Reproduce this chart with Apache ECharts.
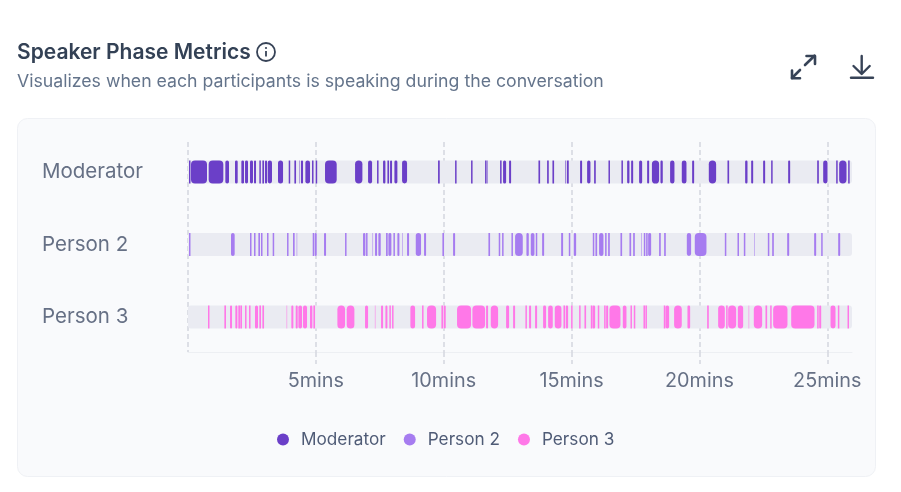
<!DOCTYPE html>
<html><head><meta charset="utf-8">
<style>html,body{margin:0;padding:0;background:#fff}#c{width:901px;height:492px}</style>
<script src="https://cdn.jsdelivr.net/npm/echarts@6/dist/echarts.min.js"></script>
</head><body><div id="c"></div>
<script>
const speakers = ['Moderator','Person 2','Person 3'];
const tickMinutes = [5,10,15,20,25];
const durationSec = 1558;
// speaking turns, [start, end] in seconds
const moderator = [[2.3,4.2],[7,44.6],[48.5,82.9],[87.6,96.2],[110.3,116.6],[125.2,131.4],[133.8,140.8],[145.5,152.5],[154.9,159.6],[167.4,169.8],[174.5,178.4],[180.7,185.4],[187,197.1],[211.2,223],[236.3,239.4],[249.6,253.5],[261.3,262.3],[265,269.9],[275.4,286.3],[291,293.4],[299.6,302.8],[321.5,348.9],[392,409.2],[422.5,431.9],[443.6,446],[457.7,463.2],[467.9,471.8],[474.1,478.8],[484.3,491.3],[502.3,514],[586.7,590.7],[626.7,629],[664.2,667.3],[697.1,700.2],[702,703.2],[732.3,734.6],[739.3,746.4],[753.4,758.1],[822.3,826.2],[842.6,846.5],[855.1,859],[885.6,887],[889,893.4],[920,924.7],[936.5,944.3],[952.9,956.8],[986.6,989.7],[1017,1019.4],[1030.4,1035.8],[1039.8,1044.5],[1058.5,1065.6],[1077.3,1082],[1088.5,1105.4],[1108.6,1114],[1131.2,1141.4],[1158.6,1169.6],[1182.9,1187.6],[1222,1239.2],[1265.8,1269.7],[1307.3,1312.8],[1321.4,1326.1],[1349.5,1354.2],[1368.3,1370.7],[1408.2,1412.9],[1476.3,1480.2],[1490.4,1500.5],[1520.9,1524],[1527.9,1545.1],[1549,1552.2]];
const person2 = [[2.3,5.5],[100.9,109.5],[145.5,148.6],[154.9,157.2],[165.1,169],[171.3,174.5],[185.4,188.5],[198.7,201.8],[232.4,234.7],[246.4,250.3],[255,256.2],[292.6,295.7],[297.3,302],[319.2,323.9],[368.5,370.8],[410.7,416.2],[417.8,420.9],[433,434.2],[438.9,443.6],[446.7,452.2],[464.7,468.6],[470.2,477.2],[482,485.1],[491.3,496],[503,504.2],[514,518.7],[534.4,546.8],[553.9,558.6],[596.9,600.8],[622,626.7],[704.9,708.8],[729.1,732.3],[737,739.3],[758.9,762],[767.5,785.5],[794.1,799.6],[804.3,812.9],[816,819.1],[830.9,835.6],[875.5,880.1],[893.5,896.6],[905.2,910.7],[949.8,952.1],[956,960],[964.6,974.8],[978.7,981.1],[985.8,989.7],[1014.7,1018.6],[1035.8,1039.8],[1044.5,1048.4],[1064,1065.2],[1069.5,1072.6],[1075,1077.3],[1079.7,1086.7],[1105.4,1109.3],[1117.2,1121.1],[1170.4,1180.5],[1189.1,1216.5],[1259.6,1262.7],[1289.3,1292.4],[1304.2,1307.3],[1328.6,1329.8],[1360.5,1363.6],[1370.7,1374.6],[1405.9,1410.6],[1469.2,1473.9],[1485.7,1488],[1525.6,1530.3]];
const person3 = [[46.9,49.3],[85.3,89.2],[98.6,103.3],[111.1,115.8],[118.1,122],[122.8,126.7],[133.8,136.1],[143.2,145.5],[157.2,164.3],[167.4,171.3],[174.5,178.4],[231.4,232.6],[242.5,247.2],[252.7,257.4],[259,267.6],[269.9,279.3],[286.3,291.8],[294.2,298.1],[350.5,368.5],[372.4,390.4],[415.4,422.5],[438.5,439.7],[453,457.7],[463.2,467.9],[472.5,475.7],[478.8,481.2],[521.8,532.8],[549.2,551.5],[560.9,582.1],[594.6,598.5],[600,604.7],[631.3,664.2],[667.3,697.1],[699.4,704.1],[710.4,727.6],[746.4,753.4],[762.8,767.5],[791.7,794.1],[800.3,805],[814.4,819.1],[833.2,840.2],[845,855.9],[860.6,876.2],[881,884.8],[886.4,891.9],[898.9,902.1],[917.7,920],[930.2,934.1],[945.1,948.2],[949,955.3],[961.5,964.6],[976.4,979.5],[981.1,985.8],[988.9,1014.7],[1020.2,1028.8],[1038.2,1040.5],[1046,1049.2],[1068.7,1072.6],[1073.4,1076.5],[1116.4,1118.7],[1120.3,1128.9],[1140.6,1158.6],[1171.9,1178.2],[1218.1,1222],[1243.9,1259.6],[1262.7,1265],[1267.4,1286.2],[1290.1,1302.6],[1315.5,1316.7],[1327.6,1347.2],[1355,1358.9],[1366,1369.1],[1373,1406.6],[1415.3,1470],[1476.3,1478.6],[1481,1485.7],[1507.6,1519.3],[1524.8,1527.9],[1547.5,1550.6]];
const segments = [moderator, person2, person3];
const colors = ['#6B3FC8','#A67CF0','#FF78E8'];

const FONT = 'Inter';
const BAR_H = 23;
function renderSeg(params, api){
  const a = api.coord([api.value(0), api.value(2)]);
  const b = api.coord([api.value(1), api.value(2)]);
  let w = b[0]-a[0];
  if (w > 0.8 && w < 1.5) w = 1.5;   // hairline turns stay visible, very short ones fade
  const r = w < 2 ? 0 : Math.min(api.value(3), w/2);
  return {type:'rect', shape:{x:a[0], y:a[1]-BAR_H/2, width:w, height:BAR_H, r},
          style:{fill: api.visual('color')}};
}
const series = [{
  type:'custom', name:'track', silent:true, renderItem:renderSeg,
  itemStyle:{color:'#EAEBF2'}, encode:{x:[0,1],y:2},
  data:speakers.map((s,i)=>[0,durationSec,i,3]), z:1
}].concat(speakers.map((s,i)=>({
  type:'custom', name:s, renderItem:renderSeg, z:2,
  itemStyle:{color:colors[i]}, encode:{x:[0,1],y:2},
  data:segments[i].map(d=>[d[0],d[1],i,4])
})));

const chart = echarts.init(document.getElementById('c'), null, {renderer:'canvas'});
const dark = '#374357';
const dash = {type:[5,3],color:'#D6D9E0',width:1.6};
const stroke = (w)=>({stroke:dark,lineWidth:w,fill:'none',lineCap:'round',lineJoin:'round'});
chart.setOption({
  animation:false,
  backgroundColor:'#fff',
  textStyle:{fontFamily:FONT},
  title:{left:17, top:41, itemGap:7, padding:0,
    text:'Speaker Phase Metrics',
    textStyle:{fontFamily:FONT,fontSize:21,fontWeight:600,color:'#334155',lineHeight:24},
    subtext:'Visualizes when each participants is speaking during the conversation',
    subtextStyle:{fontFamily:FONT,fontSize:17.7,color:'#64748B',lineHeight:20}},
  graphic:[
    {type:'rect',z:-10,silent:true,shape:{x:17.5,y:118.5,width:858,height:358,r:10},style:{fill:'#F9FAFC',stroke:'#EFF1F5',lineWidth:1}},
    {type:'circle',shape:{cx:266,cy:52,r:9},style:{fill:'none',stroke:dark,lineWidth:1.8}},
    {type:'rect',shape:{x:265.1,y:51,width:1.8,height:5.5},style:{fill:dark}},
    {type:'circle',shape:{cx:266,cy:48,r:1.1},style:{fill:dark}},
    {type:'polyline',shape:{points:[[805,65],[814.5,55.7]]},style:stroke(2.6)},
    {type:'polyline',shape:{points:[[806.5,56],[815,56],[815,64]]},style:stroke(2.6)},
    {type:'polyline',shape:{points:[[792,78],[800,70]]},style:stroke(2.6)},
    {type:'polyline',shape:{points:[[792,70.5],[792,78.3],[800,78.3]]},style:stroke(2.6)},
    {type:'polyline',shape:{points:[[861.7,56],[861.7,73]]},style:stroke(2.4)},
    {type:'polyline',shape:{points:[[853.5,66],[861.7,74],[869.7,66]]},style:stroke(2.4)},
    {type:'polyline',shape:{points:[[851,77.8],[873,77.8]]},style:stroke(2.4)}
  ],
  grid:{left:188, top:142, width:664, height:210},
  xAxis:[{type:'value', min:0, max:durationSec, interval:300,
    axisLine:{show:true,onZero:false,lineStyle:{color:'#EDEFF3',width:1}},
    axisTick:{show:false},
    splitLine:{show:true,showMinLine:true,showMaxLine:false,lineStyle:dash},
    axisLabel:{fontFamily:FONT,fontSize:19.8,color:'#667085',margin:19,showMaxLabel:false,
      formatter:v=>tickMinutes.includes(v/60)?(v/60)+'mins':''}},
   {type:'value', position:'bottom', min:0, max:durationSec, interval:300,
    axisLine:{show:false,onZero:false},
    axisTick:{show:true,length:12,customValues:tickMinutes.map(m=>m*60),lineStyle:dash},
    splitLine:{show:false}, axisLabel:{show:false}}],
  yAxis:{type:'value', inverse:true, min:-0.414, max:2.483,
    axisLine:{show:false}, axisTick:{show:false}, splitLine:{show:false},
    axisLabel:{fontFamily:FONT,fontSize:20.5,color:'#667085',align:'left',margin:146,padding:[6,0,0,0],
      customValues:speakers.map((s,i)=>i), formatter:v=>speakers[v]}},
  legend:{data:speakers, top:431, left:277, padding:0, icon:'circle', itemWidth:12, itemHeight:12, itemGap:18,
    selectedMode:false,
    textStyle:{fontFamily:FONT,fontSize:17.2,color:'#4F5B76',padding:[0,0,0,7]}},
  series
});
</script></body></html>
